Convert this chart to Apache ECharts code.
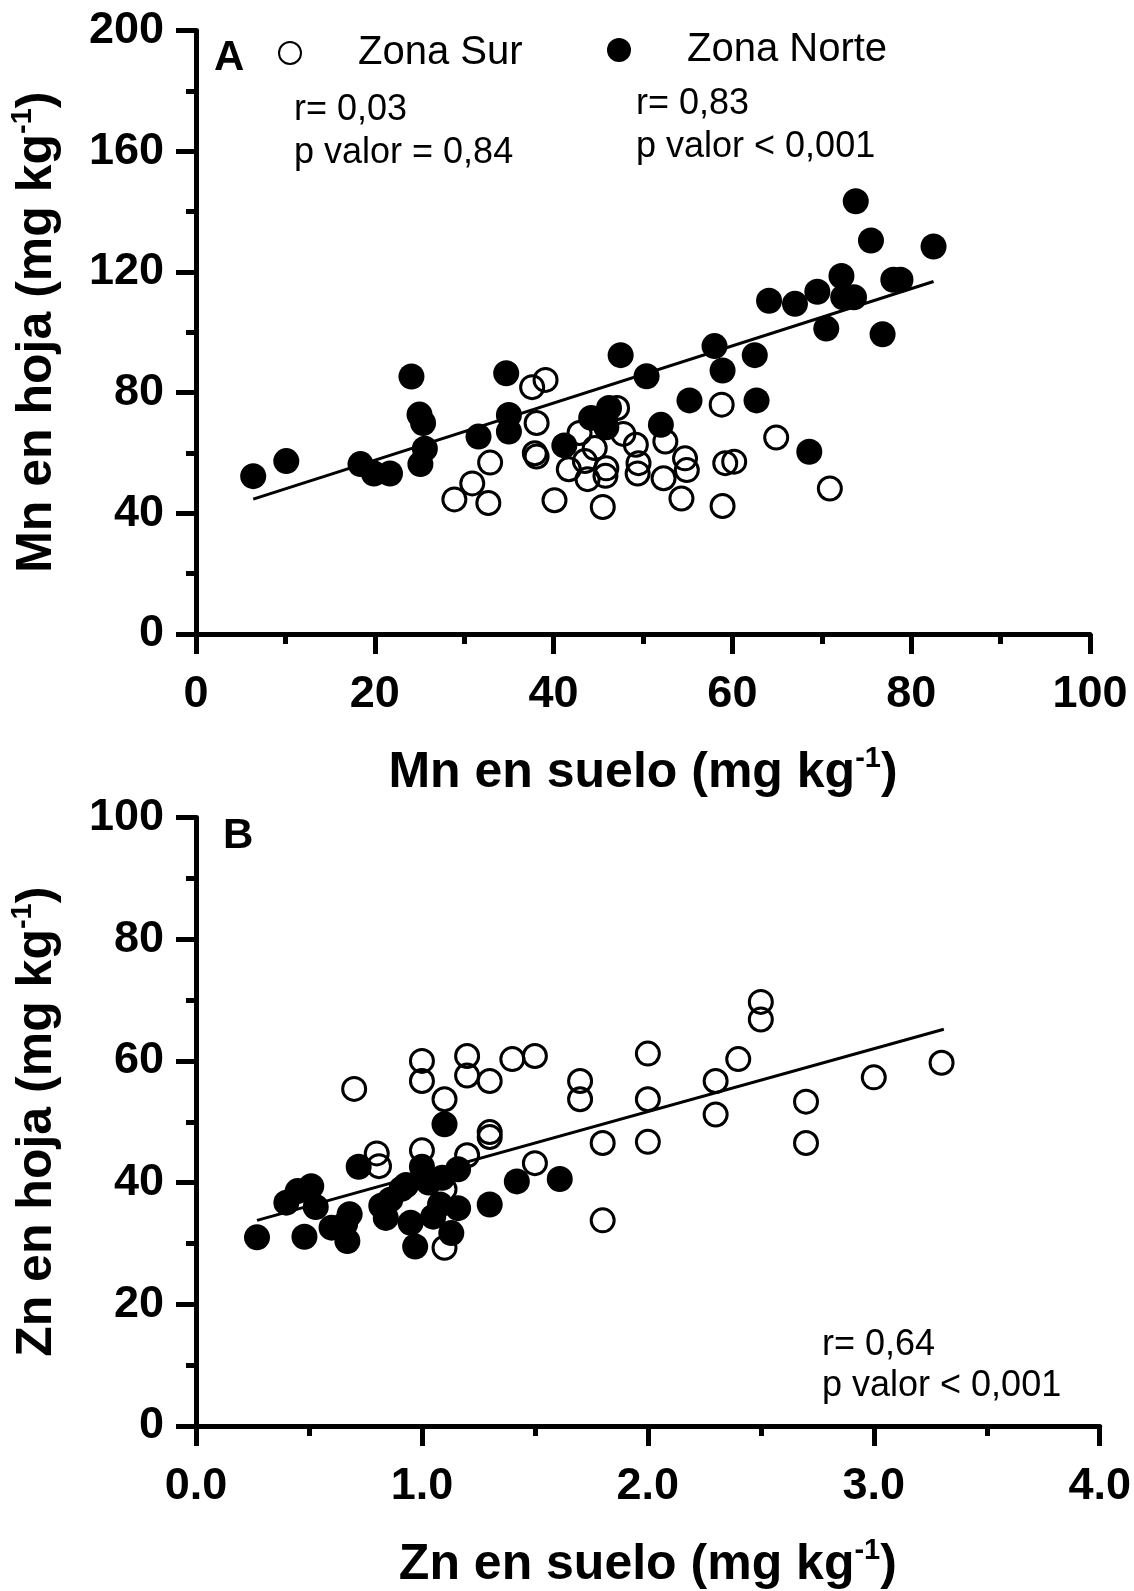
<!DOCTYPE html>
<html>
<head>
<meta charset="utf-8">
<script src="https://cdn.jsdelivr.net/npm/echarts@6/dist/echarts.min.js"></script>
<style>
  html, body { margin: 0; padding: 0; background: #fff; }
  #chart { width: 1134px; height: 1591px; }
</style>
</head>
<body>
<div id="chart"></div>
<script>
// Mn and Zn: soil vs leaf, two zones

// Panel A: Mn en suelo (x) vs Mn en hoja (y)
const surA = [
  [28.9, 44.6], [30.9, 49.9], [32.7, 43.4], [32.9, 56.8], [37.6, 81.8], [39.1, 84.2],
  [38.1, 69.9], [37.9, 59.9], [38.1, 58.8], [40.1, 44.3], [42.9, 66.6], [44.6, 61.6],
  [43.5, 57.3], [41.7, 54.6], [43.8, 51.3], [45.9, 54.9], [45.8, 52.4], [45.5, 42.1],
  [47.1, 74.9], [47.8, 66.3], [49.2, 62.7], [49.5, 56.6], [49.4, 53.2], [52.5, 63.8],
  [52.3, 51.6], [54.7, 58.2], [54.9, 54.3], [54.3, 44.9], [58.8, 76.0], [58.9, 42.4],
  [59.2, 56.6], [60.2, 57.1], [64.9, 65.1], [70.9, 48.2]
];
const norteA = [
  [6.4, 52.3], [10.1, 57.3], [18.4, 56.3], [19.9, 53.2], [21.7, 53.2], [24.1, 85.3],
  [25.0, 72.7], [25.4, 69.9], [25.6, 61.4], [25.1, 56.3], [31.6, 65.4], [34.7, 86.4],
  [35.0, 72.6], [35.0, 67.1], [41.2, 62.5], [44.2, 71.6], [45.9, 68.5], [46.2, 74.9],
  [47.5, 92.4], [50.4, 85.4], [52.0, 69.3], [55.2, 77.4], [58.0, 95.4], [58.9, 87.3],
  [62.5, 92.4], [62.7, 77.4], [64.1, 110.4], [67.0, 109.4], [68.6, 60.4], [69.5, 113.4],
  [70.5, 101.2], [72.2, 118.6], [72.4, 111.6], [73.6, 111.6], [73.8, 143.4], [75.5, 130.4],
  [76.8, 99.3], [78.0, 117.4], [78.8, 117.4], [82.5, 128.4]
];
const fitA = [[6.4, 44.7], [82.5, 116.8]];

// Panel B: Zn en suelo (x) vs Zn en hoja (y)
const surB = [
  [0.70, 55.4], [0.80, 44.8], [0.81, 42.7], [1.00, 60.0], [1.00, 56.7], [1.00, 45.3],
  [1.10, 53.7], [1.10, 38.9], [1.10, 29.3], [1.20, 60.8], [1.20, 57.6], [1.20, 44.5],
  [1.30, 56.7], [1.30, 48.3], [1.30, 47.5], [1.40, 60.3], [1.50, 60.8], [1.50, 43.2],
  [1.70, 56.7], [1.70, 53.7], [1.80, 46.5], [1.80, 33.8], [2.00, 61.2], [2.00, 53.7],
  [2.00, 46.7], [2.30, 56.7], [2.30, 51.2], [2.40, 60.3], [2.50, 69.7], [2.50, 66.8],
  [2.70, 53.3], [2.70, 46.5], [3.00, 57.3], [3.30, 59.7]
];
const norteB = [
  [0.27, 31.0], [0.40, 36.7], [0.45, 38.6], [0.51, 39.4], [0.48, 31.1], [0.53, 36.0],
  [0.60, 32.6], [0.66, 33.2], [0.68, 34.8], [0.67, 30.4], [0.72, 42.6], [0.82, 36.2],
  [0.84, 34.2], [0.86, 37.2], [0.91, 39.0], [0.93, 39.6], [0.95, 33.4], [0.97, 29.5],
  [1.00, 42.6], [1.03, 40.0], [1.05, 34.4], [1.08, 36.4], [1.09, 40.8], [1.10, 49.6],
  [1.13, 31.7], [1.16, 42.2], [1.16, 35.8], [1.30, 36.4], [1.42, 40.2], [1.61, 40.6]
];
const fitB = [[0.27, 33.8], [3.31, 65.2]];

const FONT = '"Liberation Sans", Arial, Helvetica, sans-serif';

const chart = echarts.init(document.getElementById('chart'), null, { renderer: 'canvas' });

// shared axis look
function axisLook(extra) {
    return Object.assign({
        type: 'value',
        axisLine: { show: true, onZero: false, lineStyle: { color: '#000', width: 5 } },
        axisTick: { show: true, length: 20, lineStyle: { color: '#000', width: 5 } },
        minorTick: { show: true, splitNumber: 2, length: 10, lineStyle: { color: '#000', width: 5 } },
        splitLine: { show: false },
        minorSplitLine: { show: false },
    }, extra);
}

const labelStyle = { color: '#000', fontSize: 45, fontWeight: 'bold', fontFamily: FONT };
const nameRich = {
    b: { fontSize: 50, fontWeight: 'bold', fontFamily: FONT, color: '#000', lineHeight: 58 },
    sup: { fontSize: 29, fontWeight: 'bold', fontFamily: FONT, color: '#000', lineHeight: 31, verticalAlign: 'top' },
};
const unitName = (s) => '{b|' + s + ' (mg kg}{sup|-1}{b|)}';

const openStyle = { color: 'rgba(0,0,0,0)', borderColor: '#000', borderWidth: 3, opacity: 1 };
const fillStyle = { color: '#000', opacity: 1 };

const option = {
    animation: false,
    backgroundColor: '#fff',
    grid: [
        { left: 187.6, top: 30.4, width: 902.4, height: 603.6 },
        { left: 187.6, top: 817.5, width: 913, height: 609.6 },
    ],
    xAxis: [
        axisLook({
            gridIndex: 0, min: 0, max: 100, interval: 20,
            axisLabel: Object.assign({ margin: 38 }, labelStyle),
            name: unitName('Mn en suelo'), nameLocation: 'middle', nameGap: 110,
            nameTextStyle: { rich: nameRich },
        }),
        axisLook({
            gridIndex: 1, min: 0, max: 4, interval: 1,
            axisLabel: Object.assign({ margin: 38, formatter: (v) => v.toFixed(1) }, labelStyle),
            name: unitName('Zn en suelo'), nameLocation: 'middle', nameGap: 110,
            nameTextStyle: { rich: nameRich },
        }),
    ],
    yAxis: [
        axisLook({
            gridIndex: 0, min: 0, max: 200, interval: 40,
            axisLabel: Object.assign({ margin: 32 }, labelStyle),
            name: unitName('Mn en hoja'), nameLocation: 'middle', nameGap: 130, nameRotate: 90,
            nameTextStyle: { rich: nameRich },
        }),
        axisLook({
            gridIndex: 1, min: 0, max: 100, interval: 20,
            axisLabel: Object.assign({ margin: 32 }, labelStyle),
            name: unitName('Zn en hoja'), nameLocation: 'middle', nameGap: 130, nameRotate: 90,
            nameTextStyle: { rich: nameRich },
        }),
    ],
    legend: [
        {
            data: ['Zona Sur'], left: 278, top: 33, padding: 0, orient: 'horizontal',
            itemWidth: 22, itemHeight: 22, selectedMode: false,
            textStyle: { fontSize: 40, fontFamily: FONT, color: '#000', lineHeight: 40, padding: [0, 0, 0, 52] },
        },
        {
            data: ['Zona Norte'], left: 607, top: 30, padding: 0, orient: 'horizontal',
            itemWidth: 24, itemHeight: 24, selectedMode: false,
            textStyle: { fontSize: 40, fontFamily: FONT, color: '#000', lineHeight: 40, padding: [0, 0, 0, 51] },
        },
    ],
    series: [
        {
            name: 'Zona Sur', type: 'scatter', xAxisIndex: 0, yAxisIndex: 0,
            data: surA, symbol: 'circle', symbolSize: 23, itemStyle: openStyle,
        },
        {
            name: 'fitA', type: 'line', xAxisIndex: 0, yAxisIndex: 0,
            data: fitA, symbol: 'none', silent: true,
            lineStyle: { color: '#000', width: 3 },
        },
        {
            name: 'Zona Norte', type: 'scatter', xAxisIndex: 0, yAxisIndex: 0,
            data: norteA, symbol: 'circle', symbolSize: 26, itemStyle: fillStyle,
        },
        {
            name: 'Zona Sur', type: 'scatter', xAxisIndex: 1, yAxisIndex: 1,
            data: surB, symbol: 'circle', symbolSize: 23, itemStyle: openStyle,
        },
        {
            name: 'fitB', type: 'line', xAxisIndex: 1, yAxisIndex: 1,
            data: fitB, symbol: 'none', silent: true,
            lineStyle: { color: '#000', width: 3 },
        },
        {
            name: 'Zona Norte', type: 'scatter', xAxisIndex: 1, yAxisIndex: 1,
            data: norteB, symbol: 'circle', symbolSize: 26, itemStyle: fillStyle,
        },
    ],
    graphic: [
        { type: 'text', x: 214, y: 58, style: { text: 'A', font: 'bold 42px ' + FONT, fill: '#000', verticalAlign: 'middle' } },
        { type: 'text', x: 294, y: 110, style: { text: 'r= 0,03', font: '36px ' + FONT, fill: '#000', verticalAlign: 'middle' } },
        { type: 'text', x: 294, y: 153, style: { text: 'p valor = 0,84', font: '36px ' + FONT, fill: '#000', verticalAlign: 'middle' } },
        { type: 'text', x: 636, y: 104, style: { text: 'r= 0,83', font: '36px ' + FONT, fill: '#000', verticalAlign: 'middle' } },
        { type: 'text', x: 636, y: 147, style: { text: 'p valor < 0,001', font: '36px ' + FONT, fill: '#000', verticalAlign: 'middle' } },
        { type: 'text', x: 223, y: 836, style: { text: 'B', font: 'bold 42px ' + FONT, fill: '#000', verticalAlign: 'middle' } },
        { type: 'text', x: 822, y: 1345, style: { text: 'r= 0,64', font: '36px ' + FONT, fill: '#000', verticalAlign: 'middle' } },
        { type: 'text', x: 822, y: 1386, style: { text: 'p valor < 0,001', font: '36px ' + FONT, fill: '#000', verticalAlign: 'middle' } },
    ],
};

chart.setOption(option);
</script>
</body>
</html>
